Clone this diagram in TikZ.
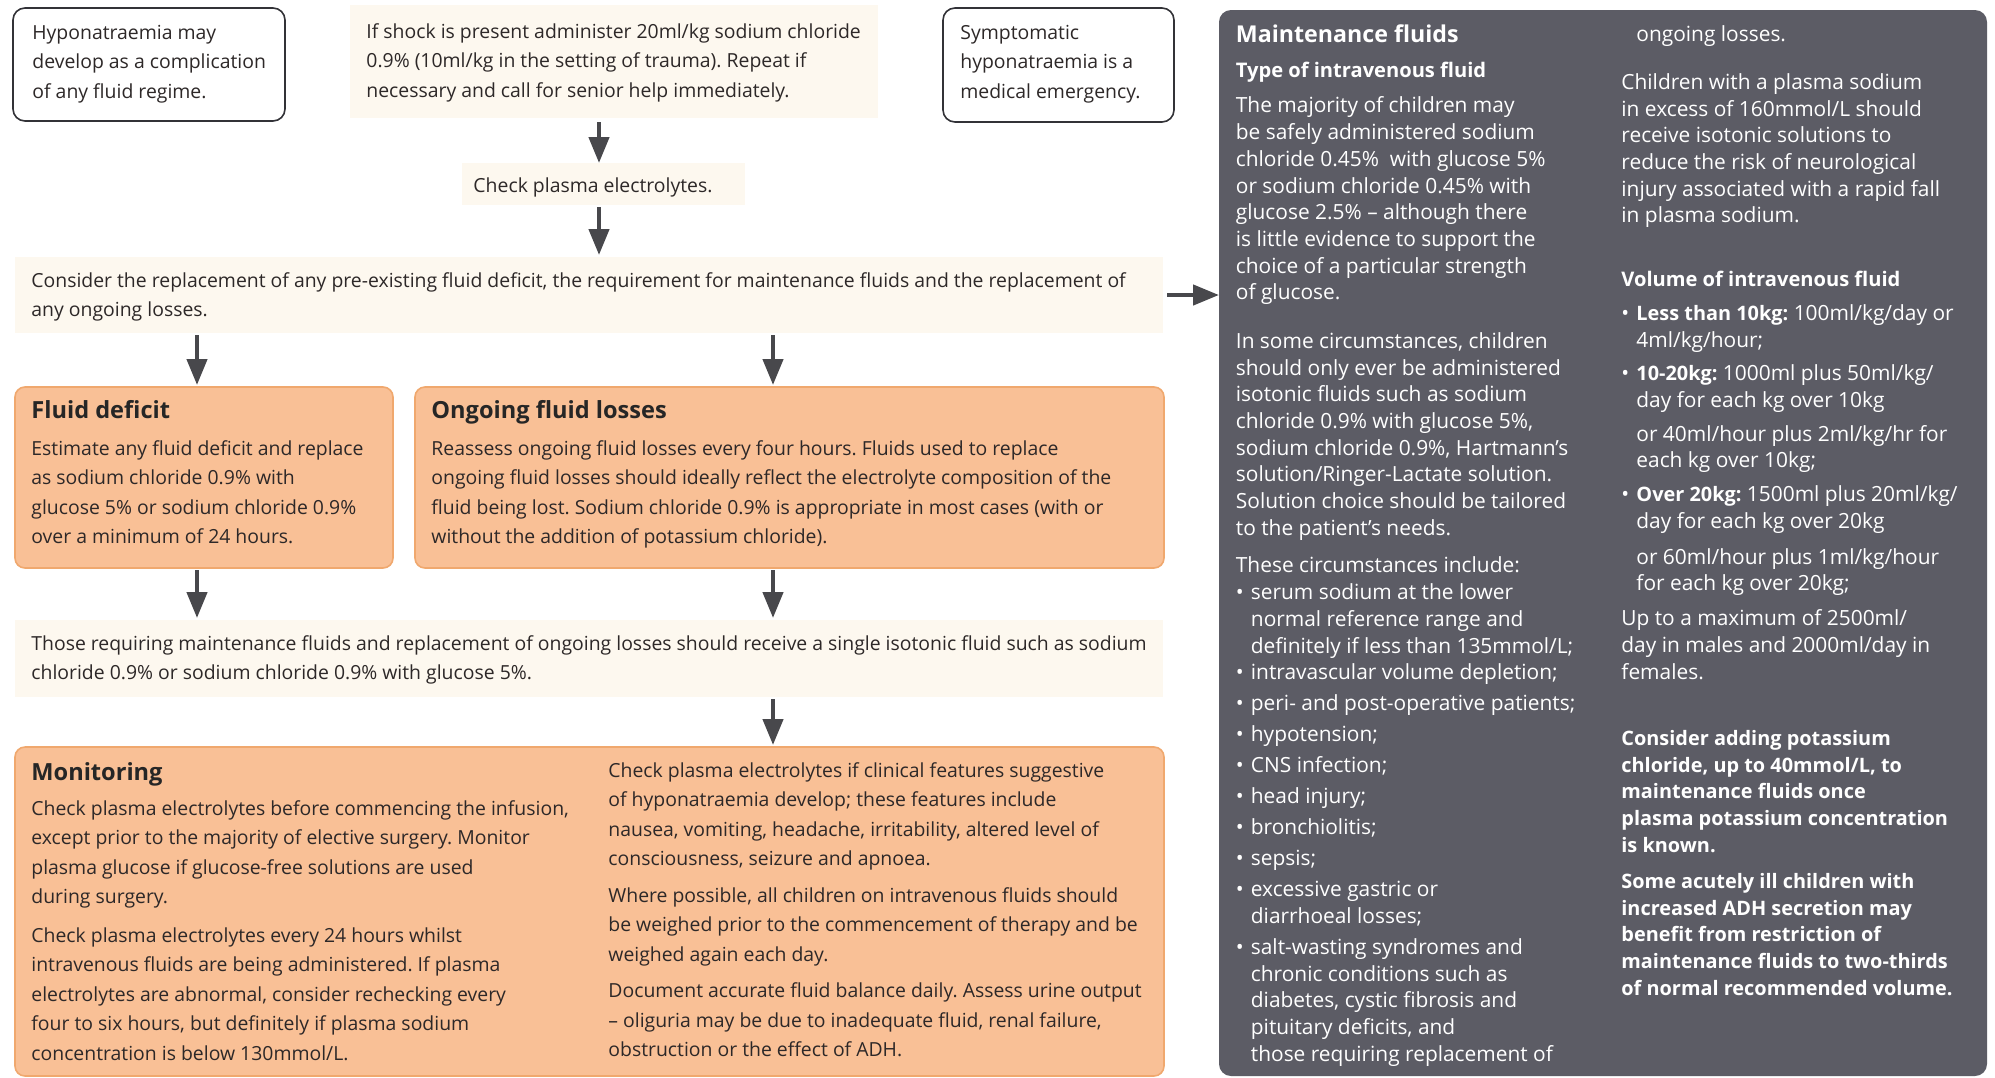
\documentclass[tikz,border=0pt]{standalone}
\usepackage{fontspec}
\setmainfont{Open Sans}
\usetikzlibrary{arrows.meta,fit}
\definecolor{panelgray}{RGB}{92,92,101}
\definecolor{peach}{RGB}{249,192,150}
\definecolor{peachline}{RGB}{240,168,110}
\definecolor{cream}{RGB}{253,248,239}
\definecolor{arrowgray}{RGB}{72,72,76}
\definecolor{inktext}{RGB}{45,40,40}
\definecolor{boxline}{RGB}{50,50,55}
\newcommand{\pbul}{\makebox[7.5pt][l]{•}}
\newcommand{\pind}{\hspace*{7.5pt}}
\newcommand{\pbf}[1]{{\fontsize{9.95pt}{13.35pt}\selectfont\bfseries #1}}
\begin{document}
\frenchspacing
\begin{tikzpicture}[x=0.5pt,y=-0.5pt,
  creambox/.style={fill=cream, draw=none, inner sep=0, outer sep=0},
  peachbox/.style={fill=peach, draw=peachline, line width=0.8pt, rounded corners=5pt, inner sep=0, outer sep=0},
  notebox/.style={fill=white, draw=boxline, line width=0.8pt, rounded corners=6pt, inner sep=0, outer sep=0},
  panelbox/.style={fill=panelgray, draw=none, rounded corners=6pt, inner sep=0, outer sep=0},
  lbody/.style={font=\fontsize{9.7pt}{14.75pt}\selectfont, text=inktext, align=left, anchor=north west, inner sep=0},
  ltitle/.style={font=\fontsize{11.8pt}{13pt}\selectfont\bfseries, text=black!85, anchor=base west, inner sep=0},
  pbody/.style={font=\fontsize{10.45pt}{13.35pt}\selectfont, text=white, align=left, anchor=north west, inner sep=0},
  pboldbody/.style={font=\fontsize{9.95pt}{13.35pt}\selectfont\bfseries, text=white, align=left, anchor=north west, inner sep=0},
  ptitle/.style={font=\fontsize{11.6pt}{13pt}\selectfont\bfseries, text=white, anchor=base west, inner sep=0},
  psub/.style={font=\fontsize{10.05pt}{12pt}\selectfont\bfseries, text=white, anchor=base west, inner sep=0},
  arr/.style={draw=arrowgray, line width=2.2pt, -{Triangle[width=10pt,length=13pt]}, color=arrowgray},
]
\useasboundingbox (0,0) rectangle (1995,1077);
\fill[white] (0,0) rectangle (1995,1077);

% boxes
\node[notebox, fit={(13,8) (285,121)}] (hypo) {};
\node[creambox, fit={(350,5) (878,118)}] (shock) {};
\node[notebox, fit={(943,8) (1174,122)}] (sympt) {};
\node[creambox, fit={(462,163) (745,205)}] (check) {};
\node[creambox, fit={(15,257) (1163,333)}] (consider) {};
\node[peachbox, fit={(15,387) (393,568)}] (fluid) {};
\node[peachbox, fit={(415,387) (1164,568)}] (ongoing) {};
\node[creambox, fit={(15,620) (1163,697)}] (those) {};
\node[peachbox, fit={(15,747) (1164,1076)}] (monitor) {};
\node[panelbox, fit={(1219,10) (1987,1076)}] (panel) {};

% connectors
\coordinate (xa) at (599,0);
\coordinate (xb) at (197,0);
\coordinate (xc) at (773,0);
\draw[arr, shorten <=2pt] (shock.south -| xa) -- (check.north -| xa);
\draw[arr, shorten <=1pt, shorten >=1pt] (check.south -| xa) -- (consider.north -| xa);
\draw[arr, shorten <=1pt, shorten >=1pt] (consider.south -| xb) -- (fluid.north -| xb);
\draw[arr, shorten <=1pt, shorten >=1pt] (consider.south -| xc) -- (ongoing.north -| xc);
\draw[arr, shorten <=1pt, shorten >=1pt] (fluid.south -| xb) -- (those.north -| xb);
\draw[arr, shorten <=1pt, shorten >=1pt] (ongoing.south -| xc) -- (those.north -| xc);
\draw[arr, shorten <=1pt, shorten >=1pt] (those.south -| xc) -- (monitor.north -| xc);
\draw[arr, shorten <=2pt] (consider.east) -- (panel.west |- consider.east);

% left texts
\node[lbody] (hypotxt) at (32,18.35) {\strut Hyponatraemia may\\develop as a complication\\of any fluid regime.};
\node[lbody] (shocktxt) at (366,17.35) {\strut If shock is present administer 20ml/kg sodium chloride\\0.9\% (10ml/kg in the setting of trauma). Repeat if\\necessary and call for senior help immediately.};
\node[lbody] (sympttxt) at (960,18.35) {\strut Symptomatic\\hyponatraemia is a\\medical emergency.};
\node[lbody, anchor=base] (checktxt) at (593,192) {Check plasma electrolytes.};
\node[lbody] (considertxt) at (31,266.35) {\strut Consider the replacement of any pre-existing fluid deficit, the requirement for maintenance fluids and the replacement of\\any ongoing losses.};
\node[ltitle] (fluidtitle) at (31,418) {Fluid deficit};
\node[lbody] (fluidtxt) at (31,434.35) {\strut Estimate any fluid deficit and replace\\as sodium chloride 0.9\% with\\glucose 5\% or sodium chloride 0.9\%\\over a minimum of 24 hours.};
\node[ltitle] (ongoingtitle) at (431,418) {Ongoing fluid losses};
\node[lbody] (ongoingtxt) at (431,434.35) {\strut Reassess ongoing fluid losses every four hours. Fluids used to replace\\ongoing fluid losses should ideally reflect the electrolyte composition of the\\fluid being lost. Sodium chloride 0.9\% is appropriate in most cases (with or\\without the addition of potassium chloride).};
\node[lbody] (thosetxt) at (31,629.35) {\strut Those requiring maintenance fluids and replacement of ongoing losses should receive a single isotonic fluid such as sodium\\chloride 0.9\% or sodium chloride 0.9\% with glucose 5\%.};
\node[ltitle] (montitle) at (31,780) {Monitoring};
\node[lbody] (monleft) at (31,794.35) {\strut Check plasma electrolytes before commencing the infusion,\\except prior to the majority of elective surgery. Monitor\\plasma glucose if glucose-free solutions are used\\during surgery.\\[4.5pt]Check plasma electrolytes every 24 hours whilst\\intravenous fluids are being administered. If plasma\\electrolytes are abnormal, consider rechecking every\\four to six hours, but definitely if plasma sodium\\concentration is below 130mmol/L.};
\node[lbody] (monright) at (608,756.35) {\strut Check plasma electrolytes if clinical features suggestive\\of hyponatraemia develop; these features include\\nausea, vomiting, headache, irritability, altered level of\\consciousness, seizure and apnoea.\\[3.5pt]Where possible, all children on intravenous fluids should\\be weighed prior to the commencement of therapy and be\\weighed again each day.\\[3.5pt]Document accurate fluid balance daily. Assess urine output\\– oliguria may be due to inadequate fluid, renal failure,\\obstruction or the effect of ADH.};

% panel texts
\node[ptitle] (ptitle) at (1235.5,42) {Maintenance fluids};
\node[psub] (psub1) at (1235.5,77) {Type of intravenous fluid};
\node[pbody] (pleft) at (1235.5,93.8) {\strut The majority of children may\\be safely administered sodium\\chloride 0.45\%\ \ with glucose 5\%\\or sodium chloride 0.45\% with\\glucose 2.5\% – although there\\is little evidence to support the\\choice of a particular strength\\of glucose.\\[10.95pt]In some circumstances, children\\should only ever be administered\\isotonic fluids such as sodium\\chloride 0.9\% with glucose 5\%,\\sodium chloride 0.9\%, Hartmann’s\\solution/Ringer-Lactate solution.\\Solution choice should be tailored\\to the patient’s needs.\\[5.45pt]These circumstances include:\\\pbul serum sodium at the lower\\\pind normal reference range and\\\pind definitely if less than 135mmol/L;\\\pbul intravascular volume depletion;\\[2.15pt]\pbul peri- and post-operative patients;\\[2.15pt]\pbul hypotension;\\[2.15pt]\pbul CNS infection;\\[2.15pt]\pbul head injury;\\[2.15pt]\pbul bronchiolitis;\\[2.15pt]\pbul sepsis;\\[2.15pt]\pbul excessive gastric or\\\pind diarrhoeal losses;\\[2.15pt]\pbul salt-wasting syndromes and\\\pind chronic conditions such as\\\pind diabetes, cystic fibrosis and\\\pind pituitary deficits, and\\\pind those requiring replacement of};
\node[pbody] (pright) at (1621,22.3) {\strut\pind ongoing losses.\\[10.65pt]Children with a plasma sodium\\in excess of 160mmol/L should\\receive isotonic solutions to\\reduce the risk of neurological\\injury associated with a rapid fall\\in plasma sodium.};
\node[psub] (psub2) at (1621,286) {Volume of intravenous fluid};
\node[pbody] (pvol) at (1621,301.3) {\strut\pbul\pbf{Less than 10kg:} 100ml/kg/day or\\\pind 4ml/kg/hour;\\[3.4pt]\pbul\pbf{10-20kg:} 1000ml plus 50ml/kg/\\\pind day for each kg over 10kg\\[3.6pt]\pind or 40ml/hour plus 2ml/kg/hr for\\\pind each kg over 10kg;\\[3.6pt]\pbul\pbf{Over 20kg:} 1500ml plus 20ml/kg/\\\pind day for each kg over 20kg\\[4.5pt]\pind or 60ml/hour plus 1ml/kg/hour\\\pind for each kg over 20kg;\\[4pt]Up to a maximum of 2500ml/\\day in males and 2000ml/day in\\females.};
\node[pboldbody] (pkcl) at (1621,726.3) {\strut Consider adding potassium\\chloride, up to 40mmol/L, to\\maintenance fluids once\\plasma potassium concentration\\is known.};
\node[pboldbody] (padh) at (1621,869.3) {\strut Some acutely ill children with\\increased ADH secretion may\\benefit from restriction of\\maintenance fluids to two-thirds\\of normal recommended volume.};
\end{tikzpicture}
\end{document}
